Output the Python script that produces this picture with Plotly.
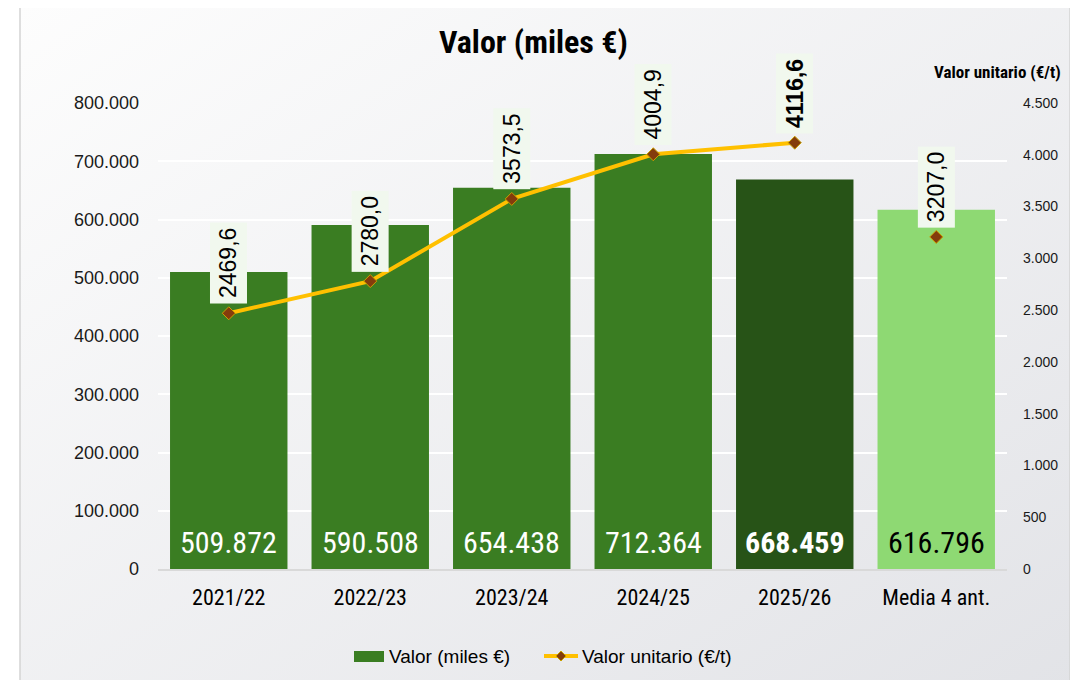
import plotly.graph_objects as go

categories = ["2021/22", "2022/23", "2023/24", "2024/25", "2025/26", "Media 4 ant."]
valor_miles = [509872, 590508, 654438, 712364, 668459, 616796]
valor_unitario = [2469.6, 2780.0, 3573.5, 4004.9, 4116.6, 3207.0]
bar_colors = ["#3A7D22", "#3A7D22", "#3A7D22", "#3A7D22", "#275317", "#8ED973"]
bar_text_colors = ["white", "white", "white", "white", "white", "black"]
left_ticks = list(range(0, 800001, 100000))
right_ticks = list(range(0, 4501, 500))

W, H = 1078, 680
OFF = 8  # default body margin of the html page
# plot area in screen pixels
SL, SR, ST, SB = 158, 1007, 103, 569
L, R, T, B = SL - OFF, SR - OFF, ST - OFF, SB - OFF

def px_x(p):
    return (p - OFF - L) / (R - L)

def px_y(p):
    return (B - (p - OFF)) / (B - T)

narrow = "Liberation Sans Narrow, Arial Narrow, Roboto Condensed, sans-serif"
sans = "Liberation Sans, Arial, sans-serif"
line_color = "#FFC000"
marker_color = "#843C0C"

fig = go.Figure()
fig.add_trace(go.Bar(
    x=categories, y=valor_miles, name="Valor (miles €)",
    marker=dict(color=bar_colors, line=dict(width=0)),
    hoverinfo="skip", showlegend=False,
))
fig.add_trace(go.Scatter(
    x=categories[:5], y=valor_unitario[:5], name="Valor unitario (€/t)",
    mode="lines+markers", yaxis="y2", showlegend=False,
    line=dict(color=line_color, width=4),
    marker=dict(symbol="diamond", size=10, color=marker_color,
                line=dict(color="#C9A000", width=1)),
    cliponaxis=False,
))
fig.add_trace(go.Scatter(
    x=categories[5:], y=valor_unitario[5:], showlegend=False,
    mode="markers", yaxis="y2",
    marker=dict(symbol="diamond", size=10, color=marker_color,
                line=dict(color="#C9A000", width=1)),
    cliponaxis=False,
))

annotations = []
# bar value labels at the base of each bar
for c, v, col in zip(categories, valor_miles, bar_text_colors):
    s = f"{v:,}".replace(",", ".")
    if c == "2025/26":
        s = f"<b>{s}</b>"
    annotations.append(dict(
        x=c, y=0, xref="x", yref="y", text=s, showarrow=False,
        yanchor="bottom", xanchor="center", yshift=7,
        font=dict(size=30, color=col, family=narrow),
    ))
# unit value labels, rotated, above the points
for c, v in zip(categories, valor_unitario):
    s = f"{v:.1f}".replace(".", ",")
    if c == "2025/26":
        s = f"<b>{s}</b>"
    annotations.append(dict(
        x=c, y=v, xref="x", yref="y2", text=s, showarrow=False,
        textangle=-90, yanchor="bottom", xanchor="center", yshift=9,
        font=dict(size=23, color="black", family=sans),
        bgcolor="#F1F8EE", borderpad=5,
    ))

annotations.append(dict(
    x=px_x(533), y=px_y(42), xref="paper", yref="paper",
    text="<b>Valor (miles €)</b>", showarrow=False,
    font=dict(size=32, color="black", family=narrow),
    xanchor="center", yanchor="middle",
))
annotations.append(dict(
    x=px_x(1063), y=px_y(72), xref="paper", yref="paper",
    text="<b>Valor unitario (€/t)</b>", showarrow=False,
    font=dict(size=17, color="black", family=narrow),
    xanchor="right", yanchor="middle",
))
# manual legend
annotations.append(dict(
    x=px_x(387), y=px_y(656), xref="paper", yref="paper",
    text="Valor (miles €)", showarrow=False,
    font=dict(size=19, color="black", family=sans),
    xanchor="left", yanchor="middle",
))
annotations.append(dict(
    x=px_x(580), y=px_y(656), xref="paper", yref="paper",
    text="Valor unitario (€/t)", showarrow=False,
    font=dict(size=19, color="black", family=sans),
    xanchor="left", yanchor="middle",
))

svg = ("data:image/svg+xml;utf8,<svg xmlns='http://www.w3.org/2000/svg' width='100' height='100' preserveAspectRatio='none'>"
       "<defs><linearGradient id='g' x1='0' y1='0' x2='1' y2='1'>"
       "<stop offset='0' stop-color='%23FDFDFD'/><stop offset='1' stop-color='%23E2E3E7'/>"
       "</linearGradient></defs><rect width='100' height='100' fill='url(%23g)'/></svg>")

shapes = [
    dict(type="rect", xref="paper", yref="paper",
         x0=px_x(20), x1=px_x(1070), y0=px_y(700), y1=px_y(3),
         line=dict(color="#D4D4D4", width=1.5), fillcolor="rgba(0,0,0,0)",
         layer="below"),
    # legend swatch: bar
    dict(type="rect", xref="paper", yref="paper",
         x0=px_x(354), x1=px_x(384), y0=px_y(662), y1=px_y(651),
         line=dict(width=0), fillcolor=bar_colors[0]),
    # legend swatch: line
    dict(type="line", xref="paper", yref="paper",
         x0=px_x(544), x1=px_x(578), y0=px_y(656), y1=px_y(656),
         line=dict(color=line_color, width=4)),
    # legend swatch: diamond marker
    dict(type="path", xref="paper", yref="paper",
         path=(f"M {px_x(561)},{px_y(651)} L {px_x(566)},{px_y(656)} "
               f"L {px_x(561)},{px_y(661)} L {px_x(556)},{px_y(656)} Z"),
         line=dict(color="#C9A000", width=1), fillcolor=marker_color),
]

fig.update_layout(
    width=W, height=H,
    margin=dict(l=L, r=W - R, t=T, b=H - B, autoexpand=False),
    paper_bgcolor="white", plot_bgcolor="rgba(0,0,0,0)",
    separators=",.",
    bargap=0.17,
    showlegend=False,
    xaxis=dict(type="category", showgrid=False, ticks="", showline=True,
               linecolor="#D9D9D9", linewidth=1.5,
               tickfont=dict(size=22, family=narrow, color="black"),
               ticklabelstandoff=8, fixedrange=True),
    yaxis=dict(range=[0, 800000], tickvals=left_ticks, tickformat=",",
               showgrid=True, gridcolor="white", gridwidth=2, zeroline=False,
               tickfont=dict(size=18, family=sans, color="#1a1a1a"),
               ticklabelstandoff=18, showline=False),
    yaxis2=dict(range=[0, 4500], tickvals=right_ticks, tickformat=",",
                overlaying="y", side="right", showgrid=False, zeroline=False,
                tickfont=dict(size=14, family=sans, color="#1a1a1a"),
                ticklabelstandoff=15, showline=False),
    annotations=annotations,
    images=[dict(source=svg, xref="paper", yref="paper",
                 x=px_x(20), y=px_y(3), sizex=px_x(1070) - px_x(20),
                 sizey=px_y(3) - px_y(700), sizing="stretch", layer="below",
                 xanchor="left", yanchor="top")],
    shapes=shapes,
)

fig.write_html("out.html")
